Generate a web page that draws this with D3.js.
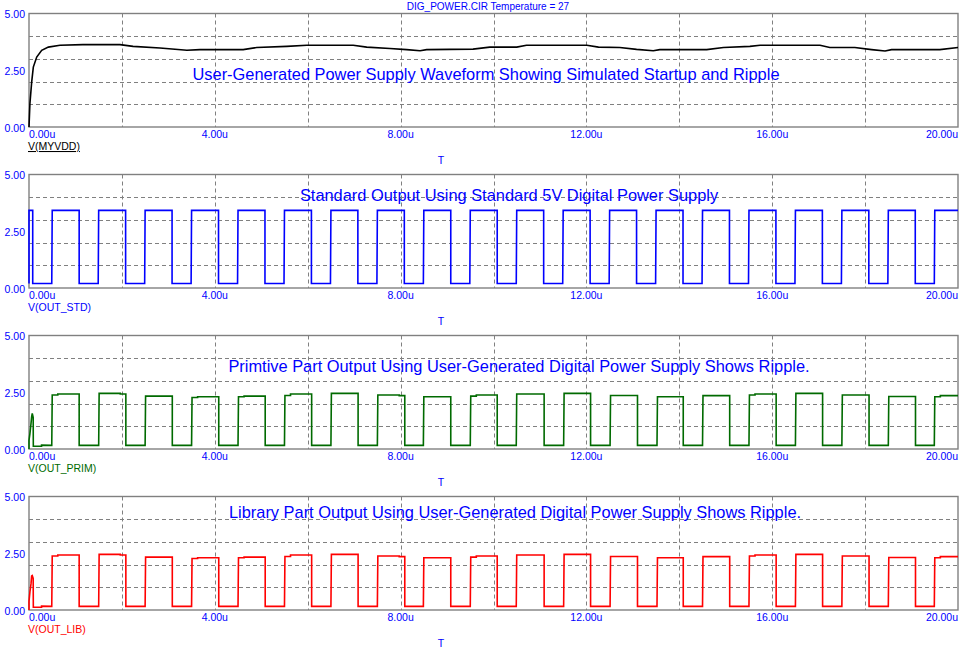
<!DOCTYPE html>
<html>
<head>
<meta charset="utf-8">
<script src="https://cdn.jsdelivr.net/npm/d3@7"></script>
<style>
  html, body { margin: 0; padding: 0; background: #ffffff; }
  svg { display: block; }
  text { font-family: "Liberation Sans", Arial, sans-serif; }
</style>
</head>
<body>
<script>
// ---------------- DATA ----------------
const chartTitle = "DIG_POWER.CIR Temperature = 27";
const xAxisName = "T";
const timeTickValues = [0, 4, 8, 12, 16, 20];
const timeTickLabels = ["0.00u", "4.00u", "8.00u", "12.00u", "16.00u", "20.00u"];
const timeGrid = [2, 4, 6, 8, 10, 12, 14, 16, 18];
const voltTickValues = [0, 2.5, 5];
const voltTickLabels = ["0.00", "2.50", "5.00"];
const voltGrid = [1, 2, 3, 4];

const traceNames = ["V(MYVDD)", "V(OUT_STD)", "V(OUT_PRIM)", "V(OUT_LIB)"];
const annotations = [
  "User-Generated Power Supply Waveform Showing Simulated Startup and Ripple",
  "Standard Output Using Standard 5V Digital Power Supply",
  "Primtive Part Output Using User-Generated Digital Power Supply Shows Ripple.",
  "Library Part Output Using User-Generated Digital Power Supply Shows Ripple."
];

// Panel 1: V(MYVDD) (time in us, volts)
const vddTime = [0, 0.02, 0.058, 0.093, 0.166, 0.273, 0.416, 0.667, 1.16, 1.96, 2.24, 2.82, 3.40, 3.68,
  4.61, 4.90, 5.55, 5.98, 6.98, 7.27, 7.77, 8.13, 8.42, 8.56, 9.56, 9.92, 10.50, 10.71, 12.01, 12.26,
  12.72, 13.08, 13.44, 13.58, 14.59, 14.95, 15.52, 15.74, 17.03, 17.24, 17.78, 18.14, 18.43, 18.57, 19.61, 20.0];
const vddVolt = [0, 1.04, 1.99, 2.64, 3.08, 3.38, 3.52, 3.60, 3.63, 3.63, 3.55, 3.48, 3.38, 3.41,
  3.41, 3.50, 3.55, 3.60, 3.60, 3.52, 3.46, 3.41, 3.36, 3.41, 3.43, 3.52, 3.52, 3.60, 3.60, 3.52,
  3.50, 3.42, 3.36, 3.41, 3.41, 3.50, 3.55, 3.60, 3.60, 3.50, 3.50, 3.41, 3.35, 3.41, 3.41, 3.50];

// Panel 2: V(OUT_STD) edges
const stdStartTime = [0, 0, 0.08, 0.08];
const stdStartVolt = [0.2, 3.42, 3.42, 0.2];
const stdRise = [0.5, 1.5, 2.5, 3.5, 4.5, 5.5, 6.5, 7.5, 8.5, 9.5, 10.5, 11.5, 12.5, 13.5, 14.5, 15.5, 16.5, 17.5, 18.5, 19.5];
const stdFall = [1.08, 2.08, 3.08, 4.08, 5.08, 6.08, 7.08, 8.08, 9.08, 10.08, 11.08, 12.08, 13.08, 14.08, 15.08, 16.08, 17.08, 18.08, 19.08, 20.0];
const stdHighStart = [3.42, 3.42, 3.42, 3.42, 3.42, 3.42, 3.42, 3.42, 3.42, 3.42, 3.42, 3.42, 3.42, 3.42, 3.42, 3.42, 3.42, 3.42, 3.42, 3.42];
const stdHighEnd = [3.42, 3.42, 3.42, 3.42, 3.42, 3.42, 3.42, 3.42, 3.42, 3.42, 3.42, 3.42, 3.42, 3.42, 3.42, 3.42, 3.42, 3.42, 3.42, 3.42];
const stdLow = 0.2;

// Panel 3: V(OUT_PRIM)
const primStartTime = [0, 0, 0.02, 0.043, 0.057, 0.07, 0.09, 0.093, 0.27, 0.27];
const primStartVolt = [0, 0.38, 0.68, 1.12, 1.42, 1.57, 1.39, 0.12, 0.12, 0.17];
const primRise = [0.5, 1.51, 2.51, 3.51, 4.51, 5.51, 6.51, 7.51, 8.5, 9.51, 10.5, 11.52, 12.52, 13.53, 14.51, 15.51, 16.51, 17.51, 18.51, 19.5];
const primFall = [1.08, 2.085, 3.085, 4.085, 5.085, 6.085, 7.085, 8.09, 9.08, 10.08, 11.09, 12.09, 13.1, 14.085, 15.085, 16.085, 17.085, 18.085, 19.085, 20.0];
const primHighStart = [2.38, 2.45, 2.33, 2.27, 2.30, 2.36, 2.45, 2.38, 2.30, 2.33, 2.42, 2.45, 2.36, 2.30, 2.35, 2.38, 2.45, 2.38, 2.31, 2.30];
const primHighEnd = [2.42, 2.42, 2.33, 2.30, 2.33, 2.42, 2.45, 2.35, 2.30, 2.38, 2.42, 2.45, 2.36, 2.30, 2.35, 2.42, 2.45, 2.38, 2.31, 2.35];
const primLow = 0.16;

// Panel 4: V(OUT_LIB)
const libStartTime = [0, 0, 0.02, 0.043, 0.057, 0.07, 0.09, 0.093, 0.27, 0.27];
const libStartVolt = [0, 0.38, 0.80, 1.15, 1.50, 1.52, 1.39, 0.12, 0.12, 0.17];
const libRise = [0.5, 1.51, 2.51, 3.51, 4.51, 5.51, 6.51, 7.51, 8.5, 9.51, 10.5, 11.52, 12.52, 13.53, 14.51, 15.51, 16.51, 17.51, 18.51, 19.5];
const libFall = [1.08, 2.085, 3.085, 4.085, 5.085, 6.085, 7.085, 8.09, 9.08, 10.08, 11.09, 12.09, 13.1, 14.085, 15.085, 16.085, 17.085, 18.085, 19.085, 20.0];
const libHighStart = [2.38, 2.45, 2.33, 2.27, 2.30, 2.36, 2.45, 2.38, 2.30, 2.33, 2.42, 2.45, 2.36, 2.30, 2.35, 2.38, 2.45, 2.38, 2.31, 2.30];
const libHighEnd = [2.42, 2.42, 2.33, 2.30, 2.33, 2.42, 2.45, 2.35, 2.30, 2.38, 2.42, 2.45, 2.36, 2.30, 2.35, 2.42, 2.45, 2.38, 2.31, 2.35];
const libLow = 0.16;

// ---------------- BUILD SERIES ----------------
function pulseSeries(startT, startV, rise, fall, hs, he, low) {
  const pts = startT.map((t, i) => [t, startV[i]]);
  rise.forEach((r, i) => {
    const f = fall[i];
    pts.push([r - 0.01, low]);
    pts.push([r, hs[i]]);
    if (hs[i] !== he[i]) {
      const s = hs[i] < he[i] ? r + 0.12 : f - 0.12;
      pts.push([s, hs[i]]);
      pts.push([s, he[i]]);
    }
    pts.push([f, he[i]]);
    if (f < 20) pts.push([f, low]);
  });
  return pts;
}

const series = [
  { pts: vddTime.map((t, i) => [t, vddVolt[i]]), color: "#000000", labelColor: "#000000", underline: true },
  { pts: pulseSeries(stdStartTime, stdStartVolt, stdRise, stdFall, stdHighStart, stdHighEnd, stdLow), color: "#0000ff", labelColor: "#0000ff" },
  { pts: pulseSeries(primStartTime, primStartVolt, primRise, primFall, primHighStart, primHighEnd, primLow), color: "#006a00", labelColor: "#006a00" },
  { pts: pulseSeries(libStartTime, libStartVolt, libRise, libFall, libHighStart, libHighEnd, libLow), color: "#ff0000", labelColor: "#ff0000" }
];

// ---------------- LAYOUT ----------------
const W = 968, H = 655;
const left = 29, right = 958;
const panelTops = [13.5, 174.5, 335.5, 496.5];
const panelH = 113.5;
const annotX = [486, 509, 519, 515];
const annotDy = [66.5, 26.5, 36, 21];
const gridColor = "#808080";
const labelBlue = "#0000ff";

const svg = d3.select("body").append("svg").attr("width", W).attr("height", H);
svg.append("rect").attr("width", W).attr("height", H).attr("fill", "#ffffff");

svg.append("text").attr("x", 488).attr("y", 10).attr("text-anchor", "middle")
  .attr("font-size", 10).attr("fill", labelBlue).text(chartTitle);

const x = d3.scaleLinear().domain([0, 20]).range([left, right]);

series.forEach((s, p) => {
  const top = panelTops[p], bottom = top + panelH;
  const y = d3.scaleLinear().domain([0, 5]).range([bottom, top]);
  const g = svg.append("g");

  // grid
  g.selectAll(".vg").data(timeGrid).join("line")
    .attr("x1", d => Math.round(x(d)) + 0.5).attr("x2", d => Math.round(x(d)) + 0.5)
    .attr("y1", top).attr("y2", bottom)
    .attr("stroke", gridColor).attr("stroke-width", 1).attr("stroke-dasharray", "4,3");
  g.selectAll(".hg").data(voltGrid).join("line")
    .attr("x1", left).attr("x2", right)
    .attr("y1", d => Math.round(y(d)) + 0.5).attr("y2", d => Math.round(y(d)) + 0.5)
    .attr("stroke", gridColor).attr("stroke-width", 1).attr("stroke-dasharray", "4,3");

  // frame
  g.append("rect").attr("x", left).attr("y", top).attr("width", right - left).attr("height", panelH)
    .attr("fill", "none").attr("stroke", gridColor).attr("stroke-width", 1.4);

  // y tick labels
  g.selectAll(".yl").data(voltTickValues).join("text")
    .attr("x", 25).attr("y", d => y(d) + 4.5).attr("text-anchor", "end")
    .attr("font-size", 10.5).attr("fill", labelBlue)
    .text((d, i) => voltTickLabels[i]);

  // x tick labels
  g.selectAll(".xl").data(timeTickValues).join("text")
    .attr("x", d => x(d)).attr("y", bottom + 11)
    .attr("text-anchor", (d, i) => i === 0 ? "start" : (i === timeTickValues.length - 1 ? "end" : "middle"))
    .attr("font-size", 10.5).attr("fill", labelBlue)
    .text((d, i) => timeTickLabels[i]);

  // trace name
  const nm = g.append("text").attr("x", 28).attr("y", bottom + 23)
    .attr("font-size", 10.5).attr("fill", s.labelColor).text(traceNames[p]);
  if (s.underline) nm.attr("text-decoration", "underline");

  // axis name
  g.append("text").attr("x", 441).attr("y", bottom + 37).attr("text-anchor", "middle")
    .attr("font-size", 10.5).attr("fill", labelBlue).text(xAxisName);

  // trace
  const line = d3.line().x(d => x(d[0])).y(d => y(d[1]));
  g.append("path").datum(s.pts).attr("d", line)
    .attr("fill", "none").attr("stroke", s.color).attr("stroke-width", 1.6)
    .attr("stroke-linejoin", "miter");

  // annotation
  g.append("text").attr("x", annotX[p]).attr("y", top + annotDy[p]).attr("text-anchor", "middle")
    .attr("font-size", 16.4).attr("fill", labelBlue).text(annotations[p]);
});
</script>
</body>
</html>
